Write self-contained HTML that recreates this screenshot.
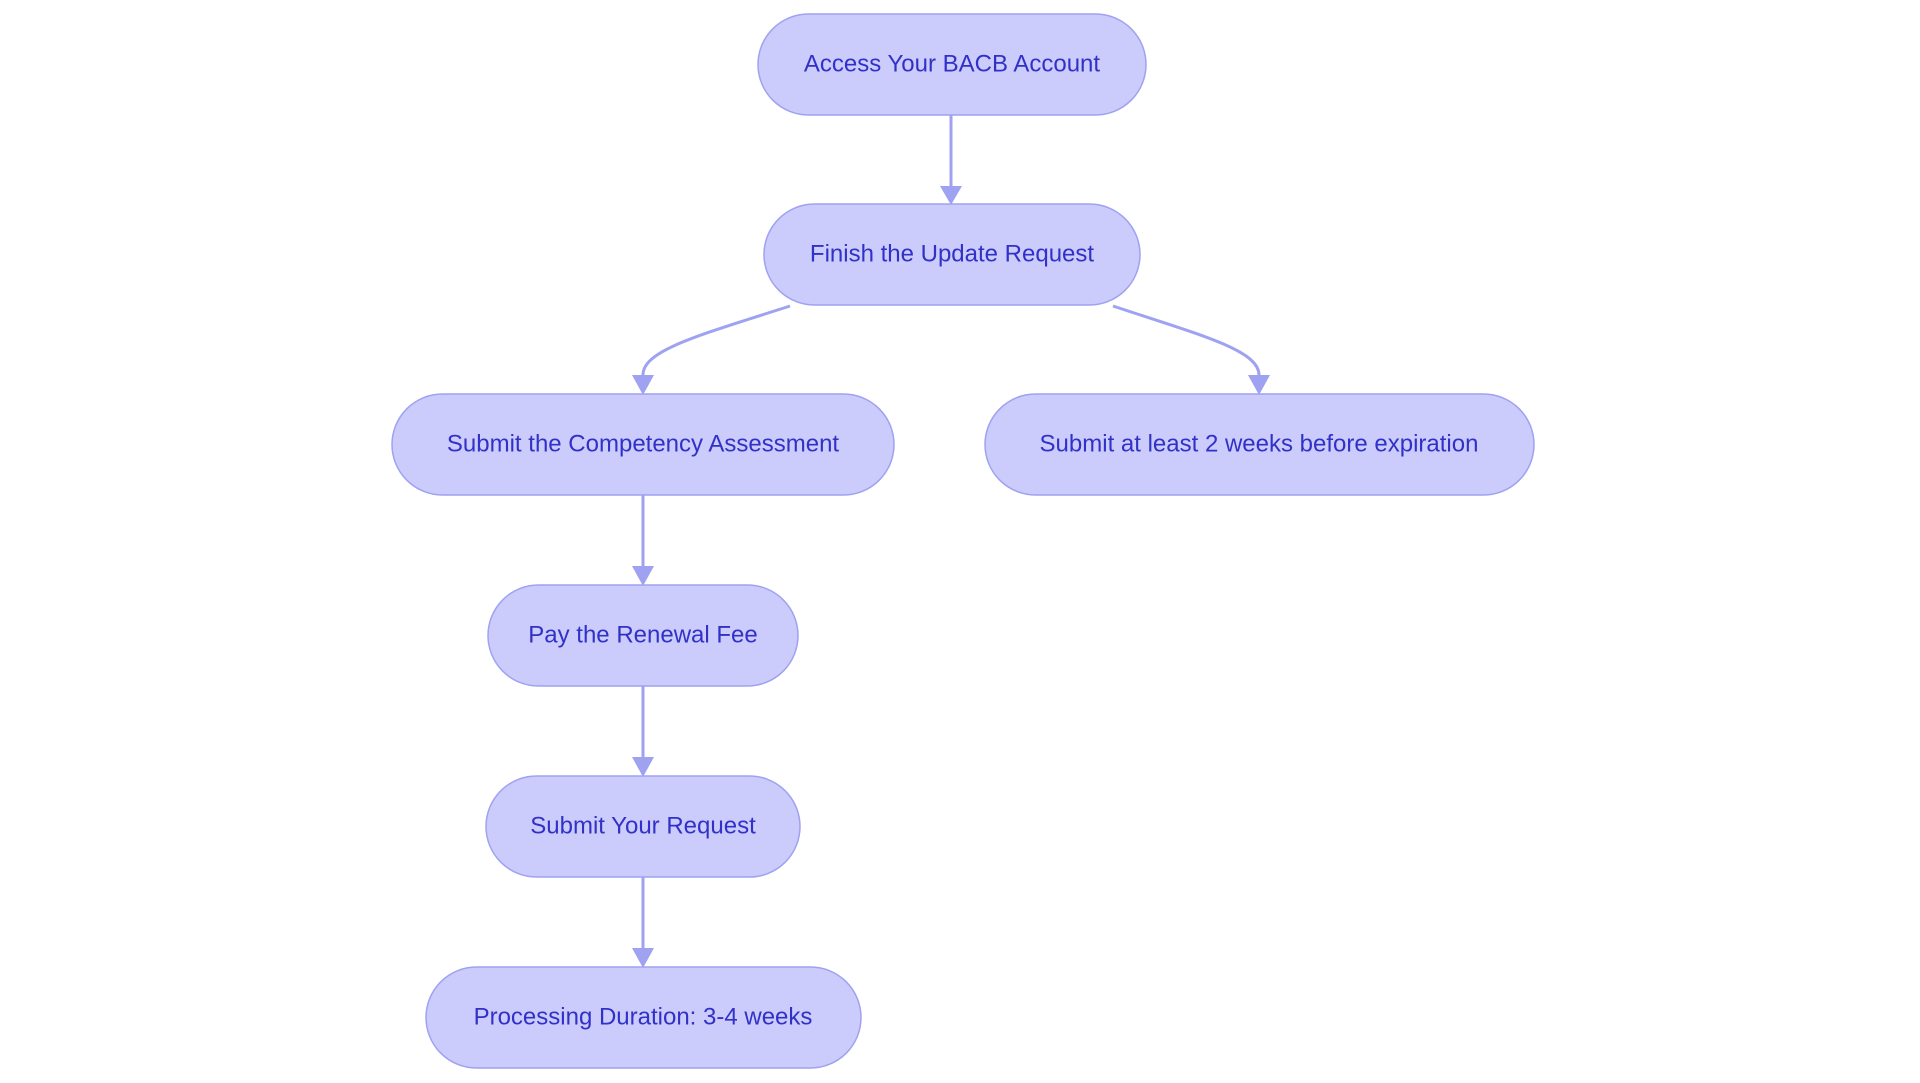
<!DOCTYPE html>
<html><head><meta charset="utf-8"><style>
html,body{margin:0;padding:0;background:#fff;}
svg{display:block}
text{font-family:"Liberation Sans",sans-serif;font-size:24px;fill:#3131c8;text-anchor:middle;dominant-baseline:central}
.n{fill:#cbcbfc;stroke:#9fa2f0;stroke-width:1.5}
.e{stroke:#9fa2f0;stroke-width:3;fill:none}
.a{fill:#9fa2f0}
</style></head><body>
<svg width="1920" height="1083" viewBox="0 0 1920 1083" xmlns="http://www.w3.org/2000/svg">
<path class="e" d="M951 115 V190"/>
<polygon class="a" points="940,186 962,186 951,205"/>
<path class="e" d="M790 306 C700 335 643 350 643 375"/>
<polygon class="a" points="632,375 654,375 643,395"/>
<path class="e" d="M1113 306 C1200 335 1259 350 1259 375"/>
<polygon class="a" points="1248,375 1270,375 1259,395"/>
<path class="e" d="M643 495 V570"/>
<polygon class="a" points="632,566 654,566 643,586"/>
<path class="e" d="M643 686 V760"/>
<polygon class="a" points="632,757 654,757 643,777"/>
<path class="e" d="M643 877 V950"/>
<polygon class="a" points="632,948 654,948 643,968"/>

<rect class="n" x="758" y="14" width="388" height="101" rx="50.5"/>
<text x="952" y="64">Access Your BACB Account</text>
<rect class="n" x="764" y="204" width="376" height="101" rx="50.5"/>
<text x="952" y="254">Finish the Update Request</text>
<rect class="n" x="392" y="394" width="502" height="101" rx="50.5"/>
<text x="643" y="444">Submit the Competency Assessment</text>
<rect class="n" x="985" y="394" width="549" height="101" rx="50.5"/>
<text x="1259" y="444">Submit at least 2 weeks before expiration</text>
<rect class="n" x="488" y="585" width="310" height="101" rx="50.5"/>
<text x="643" y="635">Pay the Renewal Fee</text>
<rect class="n" x="486" y="776" width="314" height="101" rx="50.5"/>
<text x="643" y="826">Submit Your Request</text>
<rect class="n" x="426" y="967" width="435" height="101" rx="50.5"/>
<text x="643" y="1017">Processing Duration: 3-4 weeks</text>
</svg>
</body></html>
